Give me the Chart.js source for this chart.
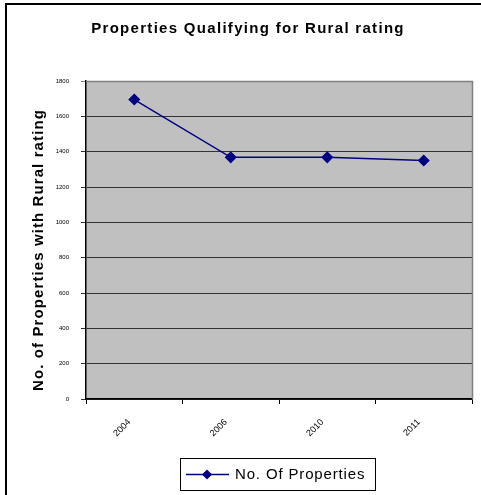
<!DOCTYPE html>
<html>
<head>
<meta charset="utf-8">
<script src="https://cdn.jsdelivr.net/npm/chart.js@4.4.0/dist/chart.umd.min.js"></script>
<style>
  html, body { margin: 0; padding: 0; background: #fff; }
  #wrap { width: 481px; height: 495px; }
</style>
</head>
<body>
<div id="wrap"><canvas id="c" width="481" height="495"></canvas></div>
<script>
const chartTitle = 'Properties Qualifying for Rural rating';
const yAxisTitle = 'No. of Properties with Rural rating';
const seriesName = 'No. Of Properties';
const categories = ['2004', '2006', '2010', '2011'];
const values = [1695, 1368, 1368, 1350];
const yMin = 0, yMax = 1800, yStep = 200;

const navy = '#000080';
const FONT = '"Liberation Sans", Arial, sans-serif';

const decor = {
  id: 'decor',
  beforeDraw(chart) {
    const { ctx, chartArea: a } = chart;
    ctx.save();
    ctx.fillStyle = '#fff';
    ctx.fillRect(0, 0, chart.width, chart.height);
    ctx.strokeStyle = '#000';
    ctx.lineWidth = 2;
    ctx.strokeRect(6, 4, 500, 520);
    ctx.fillStyle = '#C0C0C0';
    ctx.fillRect(a.left, a.top, a.right - a.left, a.bottom - a.top);
    ctx.restore();
  },
  beforeDatasetsDraw(chart) {
    const { ctx, chartArea: a } = chart;
    ctx.save();
    ctx.strokeStyle = '#808080';
    ctx.lineWidth = 1.5;
    ctx.beginPath();
    ctx.moveTo(a.left, a.top + 0.5);
    ctx.lineTo(a.right + 0.5, a.top + 0.5);
    ctx.lineTo(a.right + 0.5, a.bottom);
    ctx.stroke();
    ctx.restore();
  },
  afterDraw(chart) {
    const { ctx } = chart;
    ctx.save();
    ctx.fillStyle = '#000';
    ctx.font = 'bold 15px ' + FONT;
    ctx.textAlign = 'center';
    ctx.textBaseline = 'middle';
    ctx.letterSpacing = '1.3px';
    ctx.fillText(chartTitle, 248, 29);
    ctx.save();
    ctx.translate(39, 250);
    ctx.rotate(-Math.PI / 2);
    ctx.letterSpacing = '1.1px';
    ctx.fillText(yAxisTitle, 0, 0);
    ctx.restore();
    // legend
    const ds = chart.data.datasets[0];
    ctx.strokeStyle = '#000';
    ctx.lineWidth = 1;
    ctx.strokeRect(180.5, 458.5, 195, 32);
    ctx.strokeStyle = ds.borderColor;
    ctx.lineWidth = 1.5;
    ctx.beginPath();
    ctx.moveTo(186, 474.5);
    ctx.lineTo(229, 474.5);
    ctx.stroke();
    ctx.fillStyle = ds.pointBackgroundColor;
    ctx.beginPath();
    const mx = 207, my = 474.5, r = 5;
    ctx.moveTo(mx, my - r); ctx.lineTo(mx + r, my); ctx.lineTo(mx, my + r); ctx.lineTo(mx - r, my);
    ctx.closePath();
    ctx.fill();
    ctx.fillStyle = '#000';
    ctx.font = '15px ' + FONT;
    ctx.textAlign = 'left';
    ctx.textBaseline = 'middle';
    ctx.letterSpacing = '0.85px';
    ctx.fillText(ds.label, 235, 475);
    ctx.restore();
  }
};

new Chart(document.getElementById('c'), {
  type: 'line',
  data: {
    labels: categories,
    datasets: [{
      label: seriesName,
      data: values,
      borderColor: navy,
      backgroundColor: navy,
      pointBackgroundColor: navy,
      pointBorderColor: navy,
      borderWidth: 1.5,
      pointStyle: 'rectRot',
      pointRadius: 5,
      pointHoverRadius: 5,
      tension: 0,
      fill: false
    }]
  },
  options: {
    responsive: false,
    animation: false,
    devicePixelRatio: 1,
    layout: { padding: { left: 0, right: 9, top: 81, bottom: 46 } },
    plugins: {
      legend: { display: false },
      title: { display: false },
      tooltip: { enabled: false }
    },
    scales: {
      x: {
        type: 'category',
        offset: true,
        afterFit(s) { s.height = 50; },
        grid: {
          offset: true,
          drawOnChartArea: false,
          drawTicks: true,
          tickLength: 5,
          color: '#000'
        },
        border: { display: true, color: '#000', width: 1.5 },
        ticks: {
          minRotation: 45,
          maxRotation: 45,
          padding: 13,
          labelOffset: -5,
          color: '#000',
          font: { family: FONT, size: 9 }
        }
      },
      y: {
        min: yMin,
        max: yMax,
        afterFit(s) { s.width = 86; },
        grid: {
          color: (c) => (c.tick && c.tick.value === yMax) ? '#808080' : '#333',
          lineWidth: 1,
          tickLength: 5,
          drawTicks: true
        },
        border: { display: true, color: '#000', width: 1.5 },
        ticks: {
          stepSize: yStep,
          padding: 12,
          color: '#000',
          callback: (v) => String(v),
          font: { family: FONT, size: 6 }
        }
      }
    }
  },
  plugins: [decor]
});
</script>
</body>
</html>
